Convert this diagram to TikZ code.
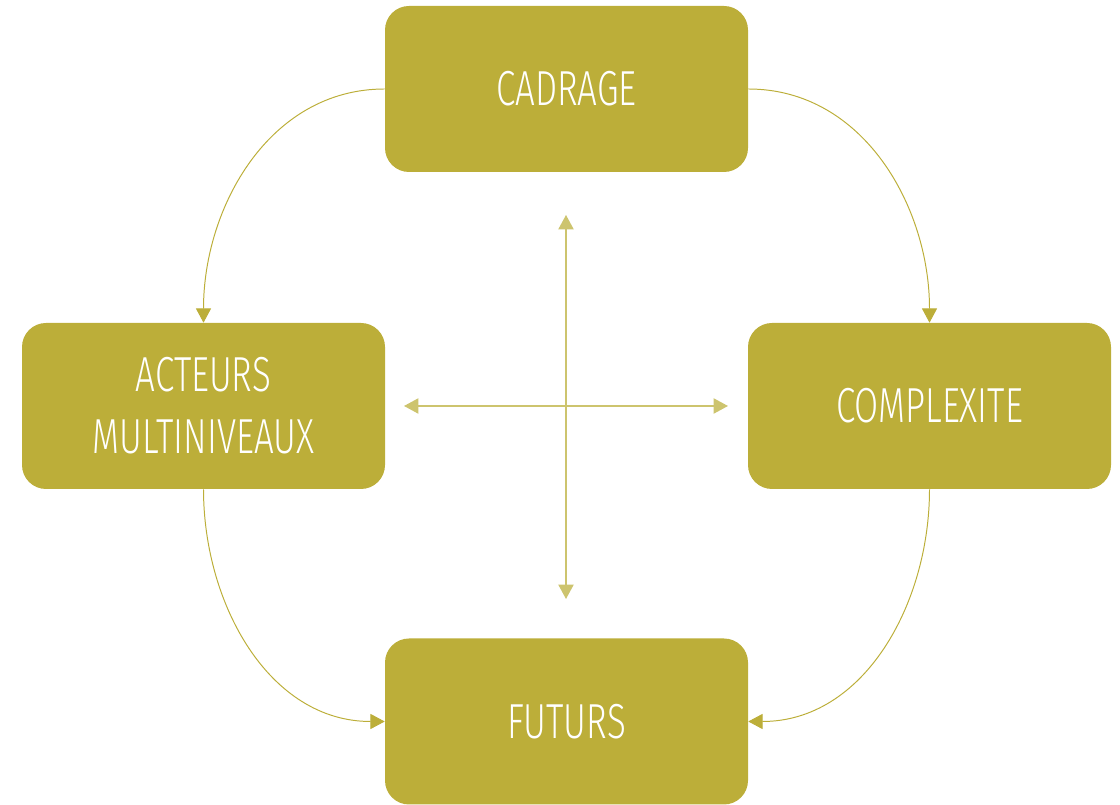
\documentclass[tikz,border=0pt]{standalone}
\usepackage{fontspec}
\usepackage{tikz}
\usetikzlibrary{arrows.meta, positioning}
\usepackage{xcolor}
\definecolor{olivo}{RGB}{188, 174, 57}
\definecolor{olivoClaro}{RGB}{205, 196, 110}
\newfontfamily\boxfont{Fira Sans Light}[FakeStretch=0.71]

\begin{document}
\begin{tikzpicture}[
  every node/.style={align=center},
  box/.style={fill=olivo, rounded corners=0.6cm, minimum width=9.075cm, minimum height=4.15cm,
    text=white, font=\boxfont\fontsize{35}{44}\selectfont},
  flecha/.style={draw=olivo, line width=0.7pt, -{Triangle[length=0.36cm, width=0.38cm]}},
  cruz/.style={draw=olivoClaro, line width=1.1pt, {Triangle[length=0.36cm, width=0.38cm]}-{Triangle[length=0.36cm, width=0.38cm]}},
]
\useasboundingbox (0,0) rectangle (28,20.125);

% The four boxes
\node[box] (cadrage) at (14.1625,17.9) {CADRAGE};
\node[box] (acteurs) at (5.0875,9.975) {ACTEURS\\MULTINIVEAUX};
\node[box] (complexite) at (23.2375,9.975) {COMPLEXITE};
\node[box] (futurs) at (14.1625,2.0875) {FUTURS};

% Curved arrows around the cycle
\draw[flecha] (cadrage.west) to[out=180, in=90] (acteurs.north);
\draw[flecha] (cadrage.east) to[out=0, in=90] (complexite.north);
\draw[flecha] (acteurs.south) to[out=-90, in=180] (futurs.west);
\draw[flecha] (complexite.south) to[out=-90, in=0] (futurs.east);

% Central cross
\coordinate (arriba) at (14.15,14.75);
\coordinate (abajo) at (14.15,5.15);
\coordinate (izq) at (10.1,9.975);
\coordinate (der) at (18.2,9.975);
\draw[cruz] (arriba) -- (abajo);
\draw[cruz] (izq) -- (der);

\end{tikzpicture}
\end{document}
